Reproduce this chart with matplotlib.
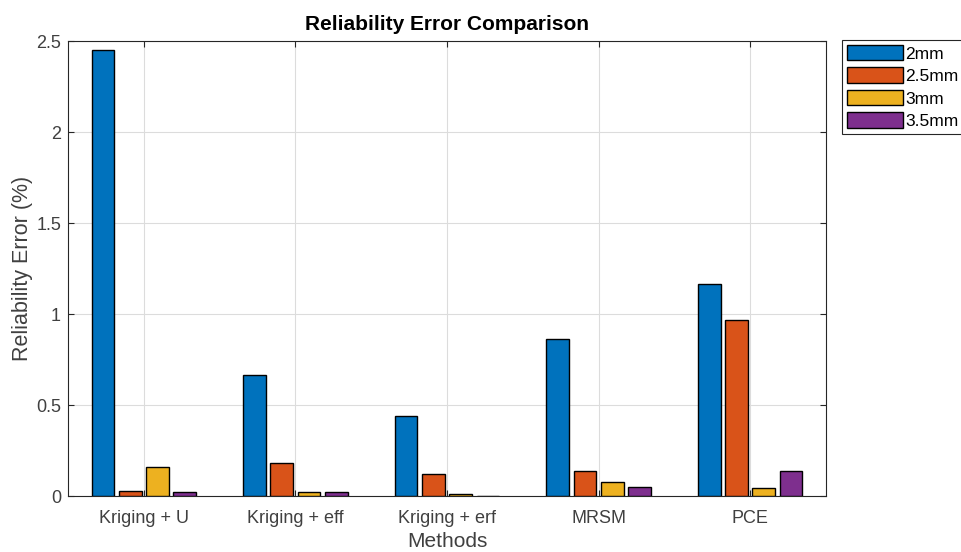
import numpy as np
import matplotlib.pyplot as plt

plt.rcParams['font.family'] = ['Liberation Sans', 'DejaVu Sans']

methods = ['Kriging + U', 'Kriging + eff', 'Kriging + erf', 'MRSM', 'PCE']
sizes = ['2mm', '2.5mm', '3mm', '3.5mm']

# error (%) per method, one list per defect size
err_2mm = [2.455, 0.665, 0.44, 0.865, 1.165]
err_25mm = [0.03, 0.18, 0.12, 0.14, 0.97]
err_3mm = [0.16, 0.02, 0.012, 0.075, 0.042]
err_35mm = [0.02, 0.02, 0.0, 0.05, 0.14]

colors = ['#0072BD', '#D95319', '#EDB120', '#7E2F8E']
series = [err_2mm, err_25mm, err_3mm, err_35mm]
txt = '#404040'

fig = plt.figure(figsize=(9.61, 5.52), dpi=100)
ax = fig.add_axes([0.0708, 0.1014, 0.7887, 0.8236])

x = np.arange(1, len(methods) + 1)
step = 0.18
width = 0.15
for i, (vals, c, lab) in enumerate(zip(series, colors, sizes)):
    ax.bar(x + (i - 1.5) * step, vals, width, color=c, edgecolor='black',
           linewidth=1.0, label=lab, zorder=3)

ax.set_xlim(0.5, 5.5)
ax.set_ylim(0, 2.5)
ax.set_xticks(x)
ax.set_xticklabels(methods)
ax.set_yticks(np.arange(0, 2.51, 0.5))
ax.set_yticklabels(['0', '0.5', '1', '1.5', '2', '2.5'])
ax.grid(True, color='#dcdcdc', linewidth=0.8, zorder=0)
ax.set_axisbelow(True)
ax.tick_params(direction='in', top=True, right=True, length=4,
               labelsize=13, colors='#262626', labelcolor=txt, width=0.8)
ax.tick_params(axis='x', pad=10)
ax.tick_params(axis='y', pad=5)
for s in ax.spines.values():
    s.set_color('#262626')
    s.set_linewidth(0.8)

ax.set_title('Reliability Error Comparison', fontsize=15, fontweight='bold', pad=8)
ax.set_xlabel('Methods', fontsize=15, color=txt, labelpad=4)
ax.set_ylabel('Reliability Error (%)', fontsize=15.5, color=txt, labelpad=2)

leg = fig.legend(loc='upper left', bbox_to_anchor=(0.876, 0.928), fontsize=12.5,
                 fancybox=False, edgecolor='#262626', framealpha=1,
                 handlelength=3.2, handleheight=1.0, labelspacing=0.33,
                 handletextpad=0.15, borderpad=0.3, borderaxespad=0)
leg.get_frame().set_linewidth(0.8)

fig.savefig('out.png', dpi=100)
